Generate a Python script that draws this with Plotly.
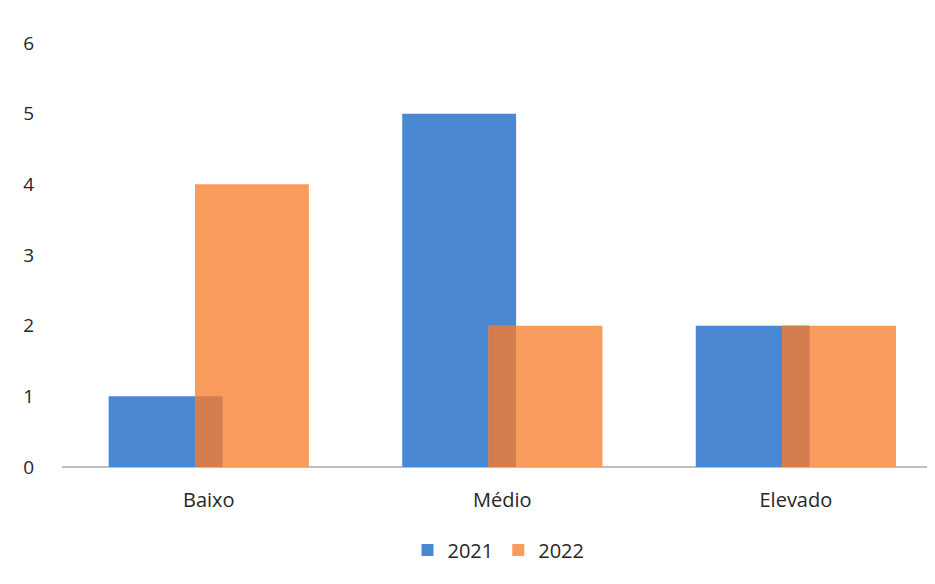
import plotly.graph_objects as go

categories = ["Baixo", "Médio", "Elevado"]
values_2021 = [1, 5, 2]
values_2022 = [4, 2, 2]
series_names = ["2021", "2022"]
y_ticks = [0, 1, 2, 3, 4, 5, 6]

blue = "#4A88D3"
orange = "#F99B5C"
overlap_col = "#D47E50"

bw = 0.388
off1 = -0.341
off2 = -0.047
overlap_vals = [min(a, b) for a, b in zip(values_2021, values_2022)]

fig = go.Figure()
fig.add_trace(go.Bar(x=categories, y=values_2021, name=series_names[0],
                     marker=dict(color=blue, line=dict(width=0)),
                     width=bw, offset=off1))
fig.add_trace(go.Bar(x=categories, y=values_2022, name=series_names[1],
                     marker=dict(color=orange, line=dict(width=0)),
                     width=bw, offset=off2))
fig.add_trace(go.Bar(x=categories, y=overlap_vals, showlegend=False,
                     marker=dict(color=overlap_col, line=dict(width=0)),
                     width=(off1 + bw) - off2, offset=off2, hoverinfo="skip"))

fig.update_layout(
    width=935, height=584,
    barmode="overlay",
    paper_bgcolor="white", plot_bgcolor="white",
    margin=dict(l=54, r=8, t=35, b=125, autoexpand=False),
    font=dict(family="Open Sans, sans-serif", size=20, color="#262626"),
    showlegend=True,
    legend=dict(orientation="h", x=0.5, xanchor="center", y=-0.196, yanchor="middle",
                font=dict(size=20), itemwidth=30, traceorder="normal"),
)
fig.update_xaxes(range=[-0.5, 2.474], showgrid=False, showline=False, zeroline=False,
                 ticks="", tickfont=dict(size=20), automargin=False,
                 ticklabelstandoff=19)
fig.update_yaxes(range=[0, 6], tickvals=y_ticks, showgrid=False, zeroline=True,
                 zerolinecolor="#BFBFBF", zerolinewidth=1.5, showline=False,
                 ticks="", ticklabelstandoff=27, tickfont=dict(size=19),
                 automargin=False)

fig.write_html("out.html")
